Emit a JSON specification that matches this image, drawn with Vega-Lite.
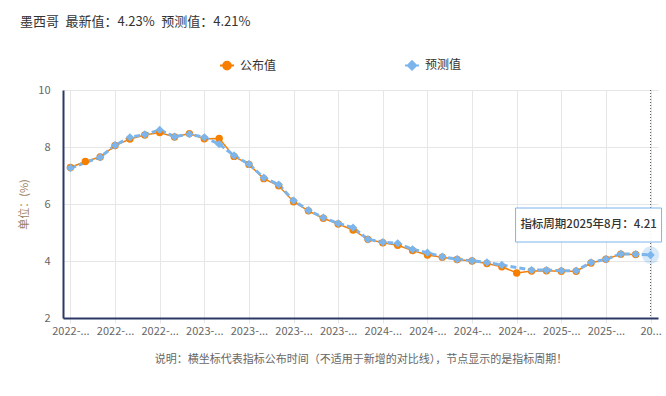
{
  "$schema": "https://vega.github.io/schema/vega-lite/v6.json",
  "width": 595,
  "height": 228,
  "autosize": "none",
  "padding": {"left": 63, "top": 90, "right": 8, "bottom": 78},
  "background": "white",
  "config": {
    "view": {"stroke": null},
    "font": "Noto Sans CJK SC"
  },
  "title": {
    "text": "墨西哥\u2002最新值：4.23%\u2002预测值：4.21%",
    "anchor": "start",
    "frame": "group",
    "dx": -43,
    "offset": 28,
    "fontSize": 13,
    "fontWeight": "normal",
    "color": "#333333",
    "font": "Noto Sans CJK SC"
  },
  "data": {
    "values": [
      {"date": "2022-06", "s": "公布值", "v": 7.28},
      {"date": "2022-07", "s": "公布值", "v": 7.49},
      {"date": "2022-08", "s": "公布值", "v": 7.65},
      {"date": "2022-09", "s": "公布值", "v": 8.05},
      {"date": "2022-10", "s": "公布值", "v": 8.28},
      {"date": "2022-11", "s": "公布值", "v": 8.42},
      {"date": "2022-12", "s": "公布值", "v": 8.51},
      {"date": "2023-01", "s": "公布值", "v": 8.35},
      {"date": "2023-02", "s": "公布值", "v": 8.47},
      {"date": "2023-03", "s": "公布值", "v": 8.29},
      {"date": "2023-04", "s": "公布值", "v": 8.30},
      {"date": "2023-05", "s": "公布值", "v": 7.67},
      {"date": "2023-06", "s": "公布值", "v": 7.39},
      {"date": "2023-07", "s": "公布值", "v": 6.89},
      {"date": "2023-08", "s": "公布值", "v": 6.64},
      {"date": "2023-09", "s": "公布值", "v": 6.08},
      {"date": "2023-10", "s": "公布值", "v": 5.76},
      {"date": "2023-11", "s": "公布值", "v": 5.50},
      {"date": "2023-12", "s": "公布值", "v": 5.30},
      {"date": "2024-01", "s": "公布值", "v": 5.09},
      {"date": "2024-02", "s": "公布值", "v": 4.76},
      {"date": "2024-03", "s": "公布值", "v": 4.64},
      {"date": "2024-04", "s": "公布值", "v": 4.55},
      {"date": "2024-05", "s": "公布值", "v": 4.37},
      {"date": "2024-06", "s": "公布值", "v": 4.21},
      {"date": "2024-07", "s": "公布值", "v": 4.13},
      {"date": "2024-08", "s": "公布值", "v": 4.05},
      {"date": "2024-09", "s": "公布值", "v": 4.00},
      {"date": "2024-10", "s": "公布值", "v": 3.91},
      {"date": "2024-11", "s": "公布值", "v": 3.80},
      {"date": "2024-12", "s": "公布值", "v": 3.58},
      {"date": "2025-01", "s": "公布值", "v": 3.65},
      {"date": "2025-02", "s": "公布值", "v": 3.66},
      {"date": "2025-03", "s": "公布值", "v": 3.64},
      {"date": "2025-04", "s": "公布值", "v": 3.64},
      {"date": "2025-05", "s": "公布值", "v": 3.93},
      {"date": "2025-06", "s": "公布值", "v": 4.06},
      {"date": "2025-07", "s": "公布值", "v": 4.24},
      {"date": "2025-08", "s": "公布值", "v": 4.23},
      {"date": "2022-06", "s": "预测值", "v": 7.26},
      {"date": "2022-08", "s": "预测值", "v": 7.64},
      {"date": "2022-09", "s": "预测值", "v": 8.06},
      {"date": "2022-10", "s": "预测值", "v": 8.34},
      {"date": "2022-11", "s": "预测值", "v": 8.44},
      {"date": "2022-12", "s": "预测值", "v": 8.60},
      {"date": "2023-01", "s": "预测值", "v": 8.36},
      {"date": "2023-02", "s": "预测值", "v": 8.45},
      {"date": "2023-03", "s": "预测值", "v": 8.34},
      {"date": "2023-04", "s": "预测值", "v": 8.10},
      {"date": "2023-05", "s": "预测值", "v": 7.70},
      {"date": "2023-06", "s": "预测值", "v": 7.40},
      {"date": "2023-07", "s": "预测值", "v": 6.92},
      {"date": "2023-08", "s": "预测值", "v": 6.68},
      {"date": "2023-09", "s": "预测值", "v": 6.12},
      {"date": "2023-10", "s": "预测值", "v": 5.78},
      {"date": "2023-11", "s": "预测值", "v": 5.52},
      {"date": "2023-12", "s": "预测值", "v": 5.32},
      {"date": "2024-01", "s": "预测值", "v": 5.17},
      {"date": "2024-02", "s": "预测值", "v": 4.76},
      {"date": "2024-03", "s": "预测值", "v": 4.66},
      {"date": "2024-04", "s": "预测值", "v": 4.62},
      {"date": "2024-05", "s": "预测值", "v": 4.41},
      {"date": "2024-06", "s": "预测值", "v": 4.29},
      {"date": "2024-07", "s": "预测值", "v": 4.15},
      {"date": "2024-08", "s": "预测值", "v": 4.06},
      {"date": "2024-09", "s": "预测值", "v": 4.01},
      {"date": "2024-10", "s": "预测值", "v": 3.95},
      {"date": "2024-11", "s": "预测值", "v": 3.86},
      {"date": "2025-01", "s": "预测值", "v": 3.68},
      {"date": "2025-02", "s": "预测值", "v": 3.68},
      {"date": "2025-03", "s": "预测值", "v": 3.66},
      {"date": "2025-04", "s": "预测值", "v": 3.66},
      {"date": "2025-05", "s": "预测值", "v": 3.95},
      {"date": "2025-06", "s": "预测值", "v": 4.06},
      {"date": "2025-07", "s": "预测值", "v": 4.25},
      {"date": "2025-08", "s": "预测值", "v": 4.24},
      {"date": "2025-09", "s": "预测值", "v": 4.21, "tip": "指标周期2025年8月：4.21"}
    ]
  },
  "encoding": {
    "x": {
      "field": "date",
      "type": "ordinal",
      "scale": {"type": "point", "padding": 0.5},
      "axis": {
        "values": ["2022-06", "2022-09", "2022-12", "2023-03", "2023-06", "2023-09", "2023-12", "2024-03", "2024-06", "2024-09", "2024-12", "2025-03", "2025-06", "2025-09"],
        "labelExpr": "datum.index == 1 ? '20...' : slice(datum.label, 0, 5) + '...'",
        "labelAngle": 0,
        "labelFontSize": 11,
        "labelColor": "#666666",
        "labelPadding": 2,
        "ticks": true,
        "tickSize": 5,
        "tickColor": "#e6e6e6",
        "grid": true,
        "gridColor": "#e6e6e6",
        "domainColor": "#2B3866",
        "domainWidth": 2,
        "title": "说明：横坐标代表指标公布时间（不适用于新增的对比线），节点显示的是指标周期！",
        "titleFontSize": 11,
        "titleFontWeight": "normal",
        "titleColor": "#666666",
        "titlePadding": 17
      }
    },
    "y": {
      "field": "v",
      "type": "quantitative",
      "scale": {"domain": [2, 10], "nice": false, "zero": false},
      "axis": {
        "values": [2, 4, 6, 8, 10],
        "ticks": false,
        "labelPadding": 13,
        "labelFontSize": 11,
        "labelColor": "#666666",
        "grid": true,
        "gridColor": "#e6e6e6",
        "domainColor": "#2B3866",
        "domainWidth": 2,
        "title": "单位：(%)",
        "titleFontSize": 11,
        "titleFontWeight": "normal",
        "titleColor": "#A08262",
        "titlePadding": 8
      }
    }
  },
  "layer": [
    {
      "transform": [{"filter": "isValid(datum.tip)"}],
      "mark": {"type": "rule", "color": "#555555", "strokeDash": [1, 2], "strokeWidth": 1},
      "encoding": {"y": null}
    },
    {
      "transform": [{"filter": "datum.s == '公布值'"}],
      "mark": {"type": "line", "strokeWidth": 1.5},
      "encoding": {
        "color": {
          "field": "s",
          "type": "nominal",
          "scale": {"domain": ["公布值", "预测值"], "range": ["#F77F00", "#7CB5EC"]},
          "legend": {
            "orient": "none",
            "direction": "horizontal",
            "legendX": 156,
            "legendY": -33,
            "title": null,
            "labelFontSize": 12,
            "labelColor": "#333333",
            "labelOffset": 5,
            "columnPadding": 124,
            "symbolSize": 196,
            "encode": {
              "symbols": {
                "update": {
                  "shape": {"signal": "datum.value === '公布值' ? 'M-1,0L1,0M-0.55,0A0.55,0.55,0,1,1,0.55,0A0.55,0.55,0,1,1,-0.55,0Z' : 'M-1,0L1,0M0,-0.6L0.6,0L0,0.6L-0.6,0Z'"},
                  "fill": {"signal": "scale('color', datum.value)"},
                  "stroke": {"signal": "scale('color', datum.value)"},
                  "strokeWidth": {"value": 2},
                  "size": {"value": 196},
                  "opacity": {"value": 1},
                  "fillOpacity": {"value": 1}
                }
              }
            }
          }
        }
      }
    },
    {
      "transform": [{"filter": "datum.s == '预测值'"}],
      "mark": {"type": "line", "strokeWidth": 3, "strokeDash": [6, 3]},
      "encoding": {"color": {"field": "s", "type": "nominal"}}
    },
    {
      "transform": [{"filter": "isValid(datum.tip)"}],
      "mark": {"type": "point", "shape": "circle", "filled": true, "size": 300, "color": "#7CB5EC", "opacity": 0.3}
    },
    {
      "transform": [{"filter": "datum.s == '公布值'"}],
      "mark": {"type": "point", "shape": "circle", "filled": true, "size": 55, "opacity": 1},
      "encoding": {"color": {"field": "s", "type": "nominal"}}
    },
    {
      "transform": [{"filter": "datum.s == '预测值'"}],
      "mark": {"type": "point", "shape": "diamond", "filled": true, "size": 70, "opacity": 1},
      "encoding": {"color": {"field": "s", "type": "nominal"}}
    },
    {
      "transform": [{"filter": "isValid(datum.tip)"}],
      "mark": {
        "type": "point",
        "shape": "M-1,-0.233L1,-0.233L1,0.233L-1,0.233Z",
        "filled": true,
        "fill": "#ffffff",
        "fillOpacity": 0.92,
        "stroke": "#7CB5EC",
        "strokeWidth": 1,
        "opacity": 1,
        "size": 21316,
        "xOffset": -62,
        "yOffset": -30
      }
    },
    {
      "transform": [{"filter": "isValid(datum.tip)"}],
      "mark": {
        "type": "text",
        "align": "center",
        "baseline": "middle",
        "dx": -62,
        "dy": -30,
        "fontSize": 11.5,
        "fontWeight": 500,
        "color": "#333333",
        "font": "Noto Sans CJK SC"
      },
      "encoding": {"text": {"field": "tip"}}
    }
  ]
}
